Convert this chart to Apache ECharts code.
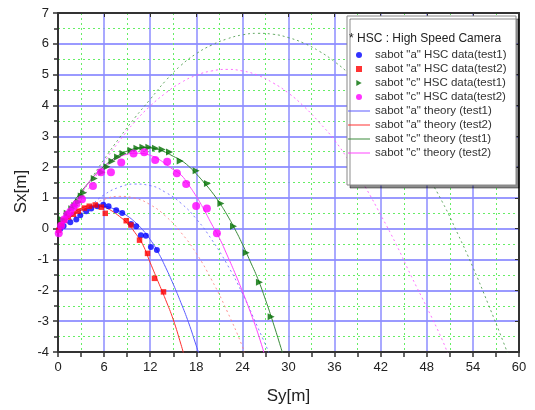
<!DOCTYPE html>
<html><head><meta charset="utf-8">
<script src="https://cdn.jsdelivr.net/npm/echarts@6/dist/echarts.min.js"></script>
<style>html,body{margin:0;padding:0;background:#fff}#c{width:535px;height:410px}</style>
</head><body><div id="c"></div>
<script>
// ---- data (Sy [m], Sx [m]) ----
const xTicks = [0,6,12,18,24,30,36,42,48,54,60];
const yTicks = [-4,-3,-2,-1,0,1,2,3,4,5,6,7];

const hscA1 = [[0.3,0.0],[0.73,0.09],[1.6,0.21],[2.38,0.3],[2.9,0.44],[3.68,0.57],[4.33,0.66],[5.11,0.73],[5.89,0.78],[6.58,0.73],[7.58,0.6],[8.36,0.51],[9.49,0.15],[10.18,0.08],[10.79,-0.21],[11.44,-0.23],[12.09,-0.59],[12.87,-0.69]];
const hscA2 = [[0.1,-0.05],[0.43,0.15],[0.82,0.28],[1.34,0.38],[1.99,0.47],[2.64,0.57],[3.42,0.67],[4.07,0.73],[4.85,0.77],[5.63,0.7],[6.15,0.5],[8.88,0.26],[9.49,0.12],[10.61,-0.37],[11.65,-0.8],[12.56,-1.61],[13.73,-2.05]];
const hscC1 = [[0.5,0.3],[1.2,0.5],[1.8,0.65],[2.2,0.75],[2.68,0.87],[3.03,1.06],[3.33,1.17],[4.72,1.63],[5.72,1.83],[6.37,2.01],[7.02,2.19],[7.75,2.33],[8.45,2.44],[9.49,2.55],[10.27,2.61],[11.05,2.64],[11.83,2.64],[12.69,2.61],[13.56,2.57],[14.51,2.49],[15.9,2.2],[17.98,1.88],[19.45,1.47],[21.2,0.82],[22.84,0.08],[24.49,-0.78],[26.22,-1.74],[27.74,-2.86]];
const hscC2 = [[0.1,-0.15],[0.4,0.1],[0.8,0.3],[1.2,0.45],[1.6,0.55],[2.0,0.7],[2.4,0.8],[3.12,0.96],[4.55,1.39],[5.59,1.83],[6.89,1.83],[8.23,2.15],[9.83,2.44],[11.22,2.48],[12.65,2.23],[14.21,2.17],[15.47,1.8],[16.68,1.45],[17.98,0.74],[19.38,0.66],[20.68,-0.15]];

const theoA1 = [[0,0],[1,0.25],[2,0.45],[3,0.6],[4,0.68],[5,0.72],[6,0.72],[7,0.67],[8,0.57],[9,0.42],[10,0.22],[11,-0.03],[12,-0.35],[13,-0.75],[14,-1.25],[15,-1.8],[16,-2.4],[17,-3.05],[18,-3.8],[18.4,-4.1]];
const theoA2 = [[0,0],[1,0.3],[2,0.52],[3,0.66],[4,0.74],[5,0.75],[6,0.7],[7,0.58],[8,0.4],[9,0.18],[10,-0.12],[11,-0.5],[12,-1.1],[13,-1.7],[14,-2.3],[15,-2.95],[16,-3.75],[16.4,-4.1]];
const theoC1 = [[0,0],[1,0.45],[2,0.85],[3,1.2],[4,1.5],[5,1.8],[6,2.03],[7,2.23],[8,2.4],[9,2.52],[10,2.6],[11,2.63],[12,2.62],[13,2.57],[14,2.48],[15,2.35],[16,2.22],[17,2.03],[18,1.78],[19,1.5],[20,1.2],[21,0.85],[22,0.45],[23,0.0],[24,-0.5],[25,-1.05],[26,-1.62],[27,-2.3],[28,-3.05],[29,-3.85],[29.3,-4.1]];
const theoC2 = [[0,0],[1,0.4],[2,0.8],[3,1.15],[4,1.5],[5,1.78],[6,2.0],[7,2.2],[8,2.33],[9,2.42],[10,2.45],[11,2.44],[12,2.38],[13,2.27],[14,2.1],[15,1.92],[16,1.75],[17,1.42],[18,1.05],[19,0.62],[20,0.15],[21,-0.3],[22,-0.85],[23,-1.42],[24,-2.03],[25,-2.68],[26,-3.38],[26.9,-4.1]];

const extA1 = [[0,0],[2,0.35],[4,0.7],[6,1.1],[8,1.35],[10,1.45],[12,1.4],[14,1.18],[16,0.83],[18,0.32],[20,-0.35],[22,-1.15],[24,-2.1],[26,-3.2],[27.6,-4.1]];
const extA2 = [[0,0],[2,0.3],[4,0.68],[6,0.95],[8,1.05],[10,0.99],[12,0.78],[14,0.41],[16,-0.12],[18,-0.8],[20,-1.66],[22,-2.67],[24,-3.82],[24.3,-4.1]];
const extC1 = [[0,0],[2,0.75],[4,1.5],[6,2.25],[8,2.95],[10,3.6],[12,4.2],[14,4.8],[16,5.3],[18,5.68],[20,5.96],[22,6.16],[24,6.29],[26,6.34],[28,6.31],[30,6.2],[32,6.02],[34,5.76],[36,5.42],[38,5.0],[40,4.5],[42,3.93],[44,3.28],[46,2.55],[48,1.75],[50,0.88],[52,-0.15],[54,-1.25],[56,-2.45],[58,-3.7],[58.6,-4.1]];
const extC2 = [[0,0],[2,0.6],[4,1.3],[6,2.15],[8,2.85],[10,3.47],[12,3.98],[14,4.4],[16,4.74],[18,4.98],[20,5.12],[22,5.17],[24,5.12],[26,4.98],[28,4.73],[30,4.4],[32,3.97],[34,3.45],[36,2.87],[38,2.15],[40,1.35],[42,0.45],[44,-0.5],[46,-1.55],[48,-2.55],[50,-3.6],[50.8,-4.1]];

const names = ['sabot "a" HSC data(test1)','sabot "a" HSC data(test2)','sabot "c" HSC data(test1)','sabot "c" HSC data(test2)',
  'sabot "a" theory (test1)','sabot "a" theory (test2)','sabot "c" theory (test1)','sabot "c" theory (test2)'];

const chart = echarts.init(document.getElementById('c'), null, {renderer:'canvas'});
const font = 'Arial, "Liberation Sans", sans-serif';

const ICON_SQUARE = 'path://M0,0L10,0L10,10L0,10Z';
const ICON_TRI = 'path://M0,0L9,5L0,10Z';
const ICON_LINE = 'path://M0,0L44,0L44,2L0,2Z';
const legendIcons = ['circle', ICON_SQUARE, ICON_TRI, 'circle', ICON_LINE, ICON_LINE, ICON_LINE, ICON_LINE];

function scat(name, data, color, symbol, size, rot){
  return {name, type:'scatter', data, symbol, symbolSize:size, symbolRotate:rot||0,
    itemStyle:{color}, z:5, animation:false};
}
function line(name, data, color, dotted){
  return {name, type:'line', data, smooth:true, symbol:'none', showSymbol:false,
    lineStyle:{color, width:1, type: dotted ? [2,3] : 'solid', opacity: dotted?0.85:1},
    itemStyle:{color}, z:dotted?2:3, animation:false};
}

const option = {
  animation:false,
  backgroundColor:'#fff',
  grid:{left:58, right:16, top:13, bottom:58},
  xAxis:[{
    type:'value', min:0, max:60, interval:6, position:'bottom',
    name:'Sy[m]', nameLocation:'middle', nameGap:36, nameMoveOverlap:false,
    nameTextStyle:{fontSize:17, color:'#222', fontFamily:font},
    axisLine:{show:true, onZero:false, lineStyle:{color:'#333', width:2}},
    axisTick:{show:true, inside:false, length:5, lineStyle:{color:'#333', width:1.5}},
    minorTick:{show:true, splitNumber:2, length:5, lineStyle:{color:'#333', width:1.5}},
    axisLabel:{fontSize:13, color:'#222', margin:9, fontFamily:font,
      formatter:v=> xTicks.includes(v) ? String(v) : ''},
    splitLine:{show:true, lineStyle:{color:'#8c8cff', width:1.5}},
    minorSplitLine:{show:true, lineStyle:{color:'#66ee66', width:1, type:[2,3]}}
  },{
    type:'value', min:0, max:60, interval:6, position:'top',
    axisLine:{show:true, onZero:false, lineStyle:{color:'#333', width:2}},
    axisTick:{show:true, inside:true, length:4, lineStyle:{color:'#333'}},
    axisLabel:{show:false}, splitLine:{show:false}
  }],
  yAxis:[{
    type:'value', min:-4, max:7, interval:1, position:'left',
    name:'Sx[m]', nameLocation:'middle', nameGap:28, nameRotate:90, nameMoveOverlap:false,
    nameTextStyle:{fontSize:17, color:'#222', fontFamily:font, padding:[0,0,0,-18]},
    axisLine:{show:true, onZero:false, lineStyle:{color:'#333', width:2}},
    axisTick:{show:true, inside:false, length:5, lineStyle:{color:'#333', width:1.5}},
    minorTick:{show:true, splitNumber:2, length:4, lineStyle:{color:'#333', width:1.5}},
    axisLabel:{fontSize:13, color:'#222', margin:9, fontFamily:font,
      formatter:v=> yTicks.includes(v) ? String(v) : ''},
    splitLine:{show:true, lineStyle:{color:'#9a9aff', width:2}},
    minorSplitLine:{show:true, lineStyle:{color:'#66ee66', width:1, type:[2,3]}}
  },{
    type:'value', min:-4, max:7, interval:1, position:'right',
    axisLine:{show:true, onZero:false, lineStyle:{color:'#333', width:2}},
    axisTick:{show:true, inside:true, length:4, lineStyle:{color:'#333'}},
    axisLabel:{show:false}, splitLine:{show:false}
  }],
  legend:{
    show:true,
    data:names.map((n,i)=>({name:n, icon:legendIcons[i]})),
    orient:'vertical', left:348, top:48, padding:0,
    itemGap:0, itemWidth:22, itemHeight:6, z:60, symbolKeepAspect:true,
    textStyle:{fontSize:11.5, color:'#333', fontFamily:font, lineHeight:14, padding:[0,0,0,0]},
    selectedMode:false
  },
  graphic:[
    {type:'rect', z:50, zlevel:0, shape:{x:347, y:16, width:169, height:169},
      style:{fill:'#fff', stroke:'#888', lineWidth:1, shadowColor:'rgba(0,0,0,0.45)', shadowOffsetX:3, shadowOffsetY:3, shadowBlur:0}},
    {type:'text', z:51, left:349, top:33,
      style:{text:'* HSC : High Speed Camera', font:'12px Arial, "Liberation Sans", sans-serif', fill:'#222'}}
  ],
  series:[
    line('extA1', extA1, '#6a6aff', true),
    line('extA2', extA2, '#ff8080', true),
    line('extC1', extC1, '#4a9a4a', true),
    line('extC2', extC2, '#ff55ff', true),
    line(names[4], theoA1, '#5a5aff', false),
    line(names[5], theoA2, '#ff3030', false),
    line(names[6], theoC1, '#3a8a3a', false),
    line(names[7], theoC2, '#ff44ff', false),
    scat(names[0], hscA1, '#0000ff', 'circle', 6),
    scat(names[1], hscA2, '#ff0000', 'rect', 5.5),
    scat(names[2], hscC1, '#006e00', 'triangle', 7, -90),
    scat(names[3], hscC2, '#ff00ff', 'circle', 8)
  ]
};
chart.setOption(option);
</script></body></html>
